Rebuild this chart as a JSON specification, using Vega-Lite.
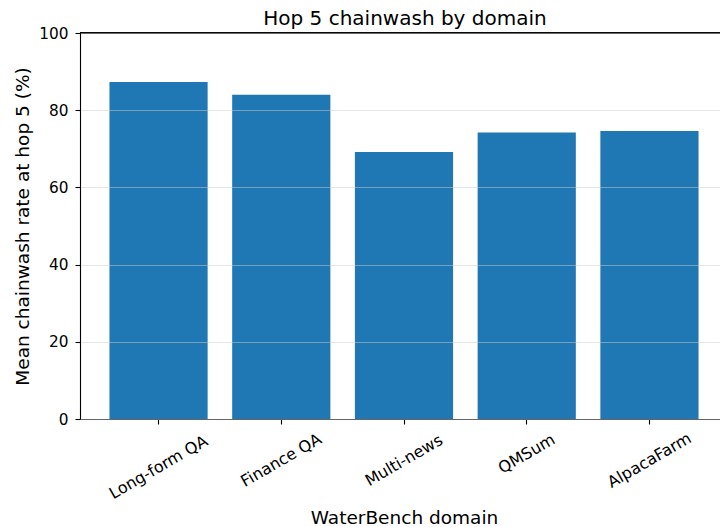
{
  "$schema": "https://vega.github.io/schema/vega-lite/v6.json",
  "width": 640,
  "height": 386,
  "autosize": {"type": "none"},
  "padding": {"left": 80, "top": 33, "right": 0, "bottom": 108},
  "background": "white",
  "config": {
    "font": "DejaVu Sans",
    "view": {"stroke": null},
    "axis": {
      "labelFont": "DejaVu Sans",
      "titleFont": "DejaVu Sans",
      "labelFontSize": 15.3,
      "titleFontSize": 18.5,
      "titleFontWeight": "normal",
      "labelColor": "black",
      "titleColor": "black",
      "domainColor": "black",
      "tickColor": "black",
      "tickSize": 5,
      "domainWidth": 1.1,
      "tickWidth": 1.1
    },
    "title": {"font": "DejaVu Sans", "fontSize": 20, "fontWeight": "normal", "color": "black"}
  },
  "title": {"text": "Hop 5 chainwash by domain", "offset": -2, "baseline": "bottom", "dx": 5, "dy": 21},
  "data": {
    "values": [
      {"domain": "Long-form QA", "rate": 87.3},
      {"domain": "Finance QA", "rate": 84.0},
      {"domain": "Multi-news", "rate": 69.2},
      {"domain": "QMSum", "rate": 74.2},
      {"domain": "AlpacaFarm", "rate": 74.6}
    ]
  },
  "layer": [
    {
      "mark": {"type": "bar", "color": "#1f77b4"},
      "encoding": {
        "x": {
          "field": "domain",
          "type": "nominal",
          "sort": null,
          "scale": {"paddingInner": 0.2, "paddingOuter": 0.24, "range": [0, 648]},
          "axis": {
            "title": "WaterBench domain",
            "labelAngle": -30,
            "labelAlign": "center",
            "labelBaseline": "middle",
            "labelFontSize": 16,
            "labelPadding": {
              "condition": [
                {"test": "datum.value === 'Long-form QA'", "value": 43},
                {"test": "datum.value === 'QMSum'", "value": 29.5}
              ],
              "value": 36
            },
            "titleX": 324,
            "titleY": 104,
            "titleBaseline": "alphabetic",
            "titleAnchor": "middle"
          }
        },
        "y": {
          "field": "rate",
          "type": "quantitative",
          "scale": {"domain": [0, 100], "nice": false},
          "axis": {
            "title": "Mean chainwash rate at hop 5 (%)",
            "values": [0, 20, 40, 60, 80, 100],
            "grid": true,
            "gridColor": "#cccccc",
            "gridOpacity": 0.5,
            "zindex": 1,
            "labelPadding": 7,
            "titleX": -52,
            "titleY": 193,
            "titleAngle": -90,
            "titleBaseline": "alphabetic",
            "titleAlign": "center"
          }
        }
      }
    },
    {
      "mark": {"type": "rule", "color": "black", "strokeWidth": 1.1},
      "encoding": {"y": {"datum": 100}}
    }
  ]
}
